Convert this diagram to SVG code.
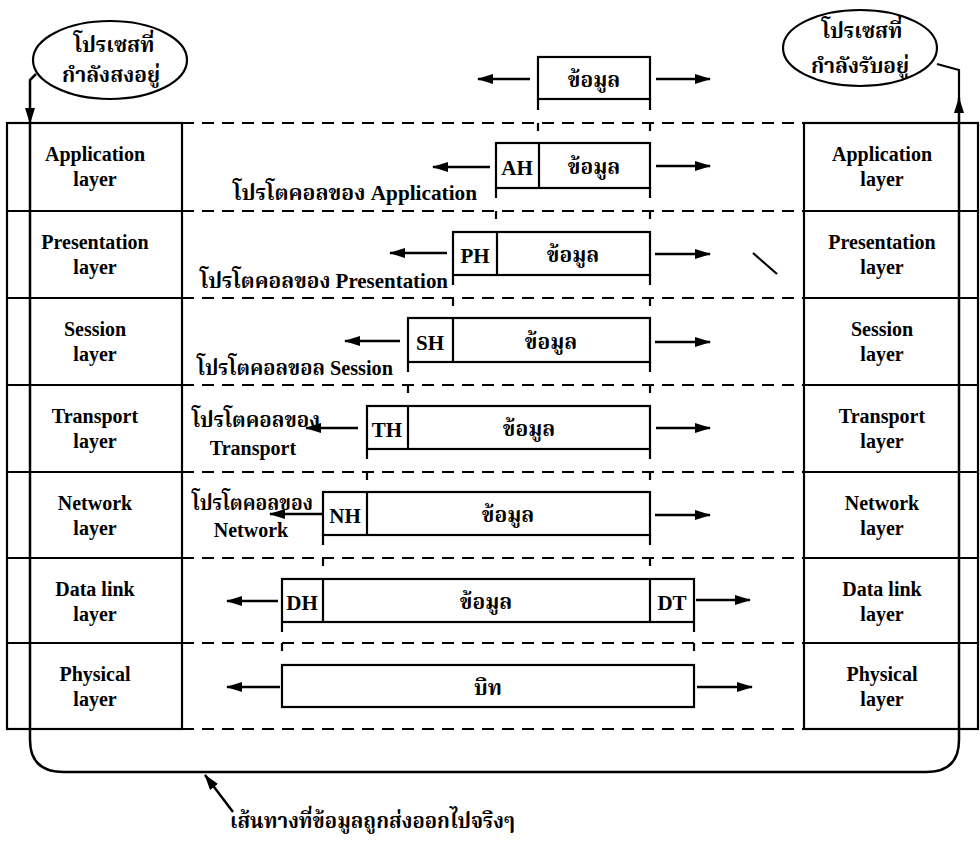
<svg xmlns="http://www.w3.org/2000/svg" width="980" height="844" viewBox="0 0 980 844">
<defs>
  <marker id="ah" viewBox="0 0 16 10" refX="15" refY="5" markerWidth="16" markerHeight="10" markerUnits="userSpaceOnUse" orient="auto">
    <path d="M0,0 L16,5 L0,10 Z" fill="#000"/>
  </marker>
</defs>
<style>
  .box{fill:#fff;stroke:#000;stroke-width:2.2}
  .ln{fill:none;stroke:#000;stroke-width:2.2}
  .sep{fill:none;stroke:#000;stroke-width:2;stroke-dasharray:12 8}
  .arr{fill:none;stroke:#000;stroke-width:2.5;marker-end:url(#ah)}
  .en{font-family:"Liberation Serif","Times New Roman",serif;font-weight:bold;font-size:20px;text-anchor:middle;fill:#000}
  .hd{font-family:"Liberation Serif","Times New Roman",serif;font-weight:bold;font-size:21px;text-anchor:middle;fill:#000}
  .th{font-family:"Liberation Serif","Noto Serif Thai","Noto Sans Thai","Tlwg Typo","Garuda","Loma",sans-serif;font-weight:bold;font-size:21px;fill:#000}
  .mid{text-anchor:middle}
</style>

<!-- sending process -->
<g id="proc-send">
  <ellipse cx="110" cy="60" rx="77" ry="39" class="box"/>
  <text x="114" y="52" class="th mid">โปรเซสที่</text>
  <text x="111" y="82" class="th mid">กำลังสงอยู่</text>
</g>

<!-- receiving process -->
<g id="proc-recv">
  <ellipse cx="860" cy="48" rx="77" ry="38" class="box"/>
  <text x="862" y="38" class="th mid">โปรเซสที่</text>
  <text x="860" y="73" class="th mid">กำลังรับอยู่</text>
</g>

<!-- sender layer stack -->
<g id="stack-send">
  <rect x="7" y="123" width="175" height="606" class="box"/>
  <path class="ln" d="M7,211H182M7,298H182M7,385H182M7,472H182M7,558H182M7,643H182"/>
  <text class="en" x="95" y="161">Application</text><text class="en" x="95" y="186">layer</text>
  <text class="en" x="95" y="249">Presentation</text><text class="en" x="95" y="274">layer</text>
  <text class="en" x="95" y="336">Session</text><text class="en" x="95" y="361">layer</text>
  <text class="en" x="95" y="423">Transport</text><text class="en" x="95" y="448">layer</text>
  <text class="en" x="95" y="510">Network</text><text class="en" x="95" y="535">layer</text>
  <text class="en" x="95" y="596">Data link</text><text class="en" x="95" y="621">layer</text>
  <text class="en" x="95" y="681">Physical</text><text class="en" x="95" y="706">layer</text>
</g>

<!-- receiver layer stack -->
<g id="stack-recv">
  <rect x="804" y="123" width="174" height="606" class="box"/>
  <path class="ln" d="M804,211H978M804,298H978M804,385H978M804,472H978M804,558H978M804,643H978"/>
  <text class="en" x="882" y="161">Application</text><text class="en" x="882" y="186">layer</text>
  <text class="en" x="882" y="249">Presentation</text><text class="en" x="882" y="274">layer</text>
  <text class="en" x="882" y="336">Session</text><text class="en" x="882" y="361">layer</text>
  <text class="en" x="882" y="423">Transport</text><text class="en" x="882" y="448">layer</text>
  <text class="en" x="882" y="510">Network</text><text class="en" x="882" y="535">layer</text>
  <text class="en" x="882" y="596">Data link</text><text class="en" x="882" y="621">layer</text>
  <text class="en" x="882" y="681">Physical</text><text class="en" x="882" y="706">layer</text>
</g>

<!-- peer protocol boundaries -->
<g id="boundaries">
  <path class="sep" d="M182,123H804M182,211H804M182,298H804M182,385H804M182,472H804M182,558H804M182,643H804M182,729H804"/>
  <!-- ticks where each unit carries down into the layer below -->
  <path class="ln" d="M538,123v8M650,123v8M496,211v8M650,211v8M453,298v8M650,298v8M408,385v8M650,385v8M367,472v8M650,472v8M323,558v8M650,558v8M282,643v8M694,643v8"/>
  <!-- legs under each unit -->
  <path class="ln" d="M538,99v11M650,99v11M496,188v10M650,188v10M453,275v10M650,275v10M408,362v10M650,362v10M367,449v10M650,449v10M323,535v10M650,535v10M282,622v10M694,622v10"/>
</g>

<!-- data units -->
<g id="pdu-data">
  <rect x="538" y="57" width="112" height="42" class="box"/>
  <text x="594" y="87" class="th mid">ข้อมูล</text>
</g>
<g id="pdu-app">
  <rect x="496" y="143" width="154" height="45" class="box"/>
  <path class="ln" d="M539,143V188"/>
  <text x="517" y="175" class="hd">AH</text>
  <text x="594" y="174" class="th mid">ข้อมูล</text>
</g>
<g id="pdu-pres">
  <rect x="453" y="232" width="197" height="43" class="box"/>
  <path class="ln" d="M497,232V275"/>
  <text x="475" y="263" class="hd">PH</text>
  <text x="573" y="262" class="th mid">ข้อมูล</text>
</g>
<g id="pdu-sess">
  <rect x="408" y="318" width="242" height="44" class="box"/>
  <path class="ln" d="M453,318V362"/>
  <text x="430" y="350" class="hd">SH</text>
  <text x="551" y="349" class="th mid">ข้อมูล</text>
</g>
<g id="pdu-trans">
  <rect x="367" y="406" width="283" height="43" class="box"/>
  <path class="ln" d="M408,406V449"/>
  <text x="387" y="437" class="hd">TH</text>
  <text x="529" y="436" class="th mid">ข้อมูล</text>
</g>
<g id="pdu-net">
  <rect x="323" y="492" width="327" height="43" class="box"/>
  <path class="ln" d="M367,492V535"/>
  <text x="345" y="523" class="hd">NH</text>
  <text x="508" y="522" class="th mid">ข้อมูล</text>
</g>
<g id="pdu-link">
  <rect x="282" y="579" width="412" height="43" class="box"/>
  <path class="ln" d="M323,579V622M650,579V622"/>
  <text x="302" y="610" class="hd">DH</text>
  <text x="486" y="609" class="th mid">ข้อมูล</text>
  <text x="672" y="610" class="hd">DT</text>
</g>
<g id="pdu-phys">
  <rect x="282" y="665" width="412" height="42" class="box"/>
  <text x="488" y="695" class="th mid">บิท</text>
</g>

<!-- protocol labels -->
<g id="labels">
  <text x="233" y="200" class="th" textLength="244" lengthAdjust="spacingAndGlyphs">โปรโตคอลของ Application</text>
  <text x="200" y="288" class="th" textLength="248" lengthAdjust="spacingAndGlyphs">โปรโตคอลของ Presentation</text>
  <text x="197" y="375" class="th" textLength="196" lengthAdjust="spacingAndGlyphs">โปรโตคอลขอล Session</text>
  <text x="192" y="427" class="th" textLength="128" lengthAdjust="spacingAndGlyphs">โปรโตคอลของ</text>
  <text x="253" y="455" class="en">Transport</text>
  <text x="192" y="510" class="th" textLength="121" lengthAdjust="spacingAndGlyphs">โปรโตคอลของ</text>
  <text x="251" y="537" class="en">Network</text>
  <text x="230" y="828" class="th" textLength="285" lengthAdjust="spacingAndGlyphs">เส้นทางที่ข้อมูลถูกส่งออกไปจริงๆ</text>
</g>

<!-- connectors -->
<g id="connectors">
  <!-- sideways arrows between peer layers -->
  <path class="arr" d="M530,79H478"/><path class="arr" d="M656,79H710"/>
  <path class="arr" d="M490,167H433"/><path class="arr" d="M656,166H710"/>
  <path class="arr" d="M447,253H390"/><path class="arr" d="M655,254H710"/>
  <path class="arr" d="M400,341H345"/><path class="arr" d="M655,342H710"/>
  <path class="arr" d="M358,428H306"/><path class="arr" d="M656,428H710"/>
  <path class="arr" d="M322,514H270"/><path class="arr" d="M655,515H710"/>
  <path class="arr" d="M278,601H227"/><path class="arr" d="M696,600H750"/>
  <path class="arr" d="M280,687H227"/><path class="arr" d="M697,687H752"/>
  <!-- actual path: down the sender, across, up the receiver -->
  <path class="arr" d="M36,74L30,80V123"/>
  <path class="arr" d="M30,123V740Q30,772 64,772H926Q959,772 959,740V98"/>
  <path class="ln" d="M959,100V70L937,64"/>
  <!-- pointer to the actual path -->
  <path class="arr" d="M233,812L205,775"/>
  <path class="ln" stroke-width="2.5" d="M753,253L777,274"/>
</g>
</svg>
